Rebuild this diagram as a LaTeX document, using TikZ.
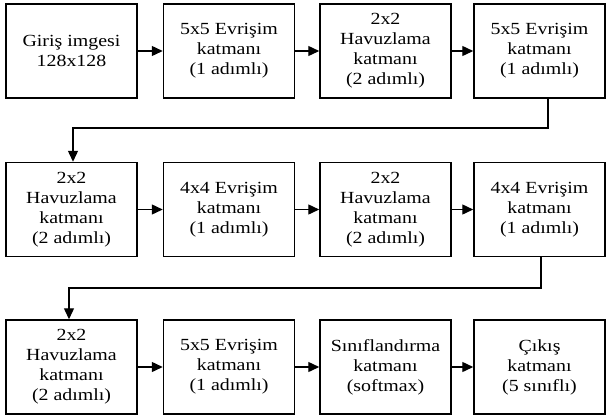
\documentclass[tikz,border=0pt]{standalone}
\usepackage{fontspec}
\setmainfont{Liberation Serif}[FakeStretch=1.17]
\usetikzlibrary{arrows.meta}
\begin{document}
\begin{tikzpicture}[x=1pt,y=1pt,
  box/.style={draw=black, line width=1.5pt, minimum width=131pt, minimum height=94pt, inner sep=0pt,
    align=center, font=\fontsize{17}{20}\selectfont},
  arr/.style={line width=1.4pt, -{Triangle[length=11pt,width=10pt]}},
  lnk/.style={line width=1.4pt}]
\useasboundingbox (0,0) rectangle (606,-416);
% row 1
\node[box] (a1) at (71.5,-51) {Giriş imgesi\\128x128};
\node[box] (a2) at (229,-51) {5x5 Evrişim\\katmanı\\(1 adımlı)};
\node[box] (a3) at (385.5,-51) {2x2\\Havuzlama\\katmanı\\(2 adımlı)};
\node[box] (a4) at (539.5,-51) {5x5 Evrişim\\katmanı\\(1 adımlı)};
% row 2
\node[box] (b1) at (71.5,-209.5) {2x2\\Havuzlama\\katmanı\\(2 adımlı)};
\node[box] (b2) at (229,-209.5) {4x4 Evrişim\\katmanı\\(1 adımlı)};
\node[box] (b3) at (385.5,-209.5) {2x2\\Havuzlama\\katmanı\\(2 adımlı)};
\node[box] (b4) at (539.5,-209.5) {4x4 Evrişim\\katmanı\\(1 adımlı)};
% row 3
\node[box] (c1) at (71.5,-367) {2x2\\Havuzlama\\katmanı\\(2 adımlı)};
\node[box] (c2) at (229,-367) {5x5 Evrişim\\katmanı\\(1 adımlı)};
\node[box] (c3) at (385.5,-367) {Sınıflandırma\\katmanı\\(softmax)};
\node[box] (c4) at (539.5,-367) {Çıkış\\katmanı\\(5 sınıflı)};
% horizontal arrows
\draw[arr] (a1) -- (a2);
\draw[arr] (a2) -- (a3);
\draw[arr] (a3) -- (a4);
\draw[arr] (b1) -- (b2);
\draw[arr] (b2) -- (b3);
\draw[arr] (b3) -- (b4);
\draw[arr] (c1) -- (c2);
\draw[arr] (c2) -- (c3);
\draw[arr] (c3) -- (c4);
% row connectors
\coordinate (t1) at (548,-128);
\coordinate (u1) at (73,-128);
\draw[arr] (a4.south -| t1) -- (t1) -- (u1) -- (u1 |- b1.north);
\coordinate (t2) at (541,-288);
\coordinate (u2) at (69,-288);
\draw[arr] (b4.south -| t2) -- (t2) -- (u2) -- (u2 |- c1.north);
\end{tikzpicture}
\end{document}
